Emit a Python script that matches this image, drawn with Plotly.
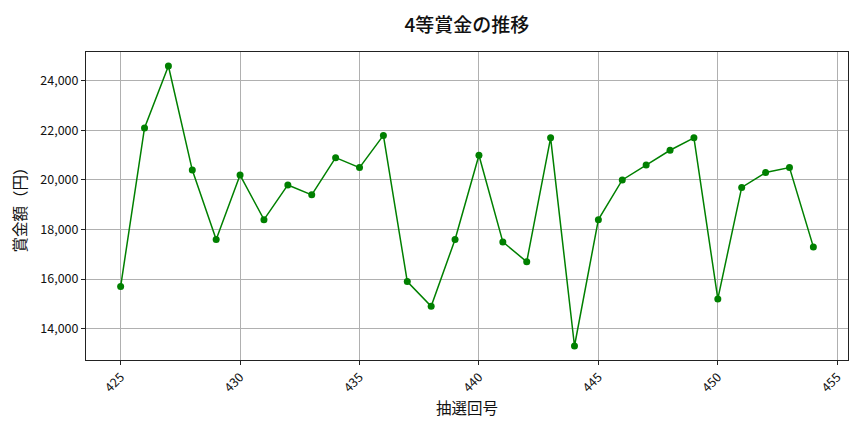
import plotly.graph_objects as go

# draw numbers (回号) and the 4th-prize amounts
draw_no = list(range(425, 455))
prize_yen = [
    15700, 22100, 24600, 20400, 17600, 20200, 18400, 19800, 19400, 20900,
    20500, 21800, 15900, 14900, 17600, 21000, 17500, 16700, 21700, 13300,
    18400, 20000, 20600, 21200, 21700, 15200, 19700, 20300, 20500, 17300,
]
x_ticks = [425, 430, 435, 440, 445, 450, 455]
y_ticks = [14000, 16000, 18000, 20000, 22000, 24000]

FONT = "Noto Sans CJK JP"

fig = go.Figure()
fig.add_trace(go.Scatter(
    x=draw_no, y=prize_yen,
    mode="lines+markers",
    line=dict(color="#008000", width=1.5),
    marker=dict(color="#008000", size=7),
    showlegend=False,
))

axis_common = dict(
    showline=True, linecolor="#222", linewidth=1, mirror=True,
    ticks="outside", ticklen=4, tickcolor="#222",
    showgrid=True, gridcolor="#b0b0b0", gridwidth=1,
    zeroline=False,
    tickfont=dict(family=FONT, size=12.5, color="#111"),
)

# page body has an 8px margin, so the figure is sized/offset to compensate
fig.update_layout(
    width=856, height=424,
    paper_bgcolor="white", plot_bgcolor="white",
    margin=dict(l=78, r=16, t=44, b=72),
    title=dict(
        text="4等賞金の推移", x=0.536, xanchor="center", y=0.96, yanchor="middle",
        font=dict(family=FONT, size=19, color="#111", weight=500),
    ),
    xaxis=dict(
        axis_common, range=[423.55, 455.45], tickvals=x_ticks, tickangle=-45,
        title=dict(text="抽選回号", font=dict(family=FONT, size=15.5, color="#111"), standoff=8),
    ),
    yaxis=dict(
        axis_common, range=[12735, 25165], tickvals=y_ticks, tickformat=",",
        title=dict(text="賞金額（円）", font=dict(family=FONT, size=15.5, color="#111"), standoff=10),
    ),
)

fig.write_html("out.html")
